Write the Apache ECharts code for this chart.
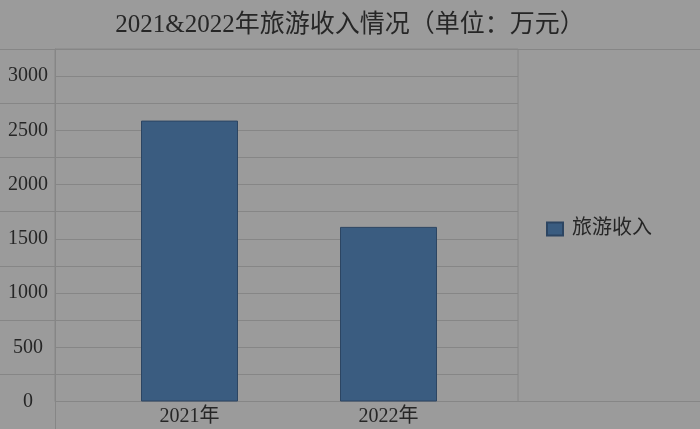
<!DOCTYPE html>
<html>
<head>
<meta charset="utf-8">
<script src="https://cdn.jsdelivr.net/npm/echarts@6/dist/echarts.min.js"></script>
<style>
html,body{margin:0;padding:0;background:#9b9b9b;}
#c{width:700px;height:429px;}
</style>
</head>
<body>
<div id="c"></div>
<script>
var categories = ['2021年', '2022年'];
var seriesName = '旅游收入';
var values = [2590, 1610];
var yMin = 0, yMax = 3250, yStep = 250, labelStep = 500;
var titleText = '2021&2022年旅游收入情况（单位：万元）';

var fontFam = '"Liberation Serif", "DejaVu Serif", "Noto Sans CJK SC", serif';
var lineCol = '#868686';
var chart = echarts.init(document.getElementById('c'));
chart.setOption({
  backgroundColor: '#9b9b9b',
  animation: false,
  title: {
    text: titleText, left: 'center', top: 8,
    textStyle: {fontFamily: fontFam, fontSize: 25, fontWeight: 'normal', color: '#262626'}
  },
  legend: {
    data: [seriesName], left: 541, top: 214, orient: 'vertical',
    itemWidth: 16, itemHeight: 13, icon: 'rect',
    textStyle: {fontFamily: fontFam, fontSize: 20, color: '#262626', padding: [0, 0, 0, 4]}
  },
  graphic: [
    {type: 'line', shape: {x1: 0, y1: 49.5, x2: 700, y2: 49.5}, style: {stroke: lineCol, lineWidth: 1}, z: 0},
    {type: 'line', shape: {x1: 518, y1: 401.5, x2: 700, y2: 401.5}, style: {stroke: lineCol, lineWidth: 1}, z: 0},
    {type: 'line', shape: {x1: 55.5, y1: 401, x2: 55.5, y2: 429}, style: {stroke: lineCol, lineWidth: 1}, z: 0}
  ],
  grid: [
    {left: 55, right: 182, top: 49, bottom: 27.5, show: true, borderColor: lineCol, borderWidth: 1, backgroundColor: 'transparent'},
    {left: 90, right: 212, top: 49, bottom: 27.5},
    {left: 0, right: 645, top: 49, bottom: 54.6}
  ],
  xAxis: [
    {gridIndex: 0, type: 'category', data: categories, show: false},
    {gridIndex: 1, type: 'category', data: categories,
     axisLine: {show: false}, axisTick: {show: false},
     axisLabel: {fontFamily: fontFam, fontSize: 20, color: '#262626', margin: 5}},
    {gridIndex: 2, type: 'value', show: false}
  ],
  yAxis: [
    {gridIndex: 0, type: 'value', min: yMin, max: yMax, interval: yStep,
     axisLine: {show: true, lineStyle: {color: lineCol}}, axisTick: {show: false},
     splitLine: {show: true, lineStyle: {color: lineCol, width: 1}},
     axisLabel: {fontFamily: fontFam, fontSize: 20, color: '#262626', margin: 27, align: 'center',
       formatter: function (v) { return v % labelStep === 0 ? String(v) : ''; }}},
    {gridIndex: 1, type: 'value', min: yMin, max: yMax, interval: yStep, show: false},
    {gridIndex: 2, type: 'value', min: yStep, max: yMax, interval: labelStep,
     axisLine: {show: false}, axisTick: {show: false}, axisLabel: {show: false},
     splitLine: {show: true, lineStyle: {color: lineCol, width: 1}}}
  ],
  series: [{
    name: seriesName, type: 'bar', xAxisIndex: 1, yAxisIndex: 1,
    data: values, barWidth: 97,
    itemStyle: {color: '#3a5c80', borderColor: '#2c4562', borderWidth: 1}
  }]
});
</script>
</body>
</html>
